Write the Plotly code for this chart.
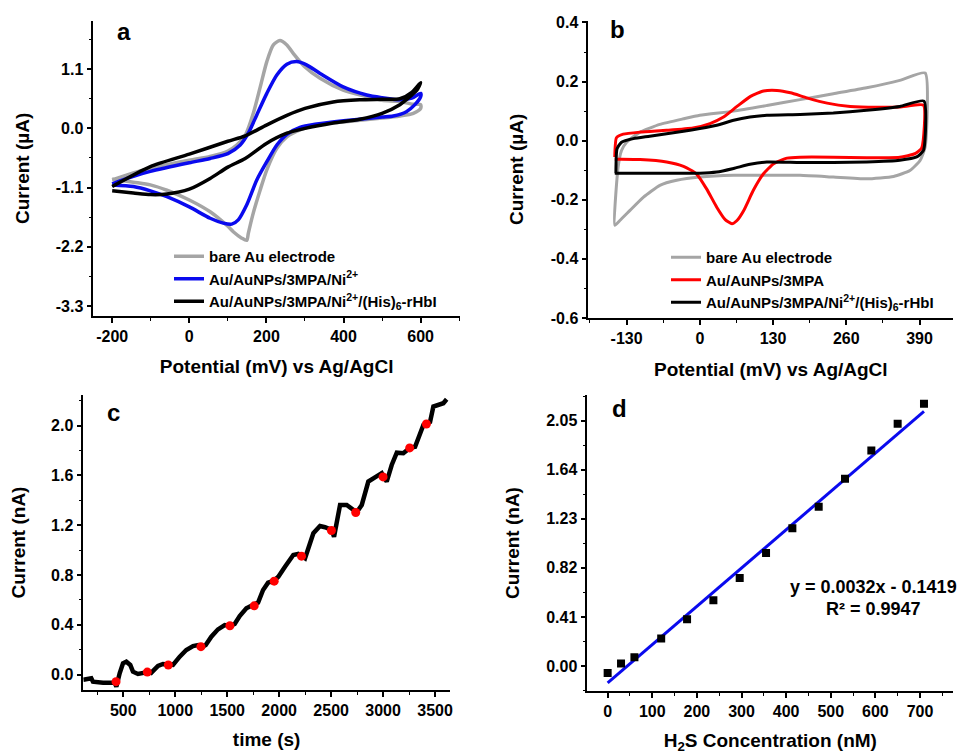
import plotly.graph_objects as go

# ---------------- Panel a : CV in ferri/ferrocyanide ----------------
a_bare_E = [-200, -145, -101, 0, 54, 100, 123, 145, 166, 184, 201, 218, 235, 253, 270, 300, 339, 399, 460, 500, 546, 577, 600,
            600, 581, 546, 500, 400, 331, 287, 253, 227, 201, 184, 166, 153, 149, 136, 114, 100, 54, 0, -58, -101, -145, -200]
a_bare_I = [-0.96, -0.83, -0.74, -0.59, -0.52, -0.42, -0.31, -0.13, 0.28, 0.77, 1.24, 1.55, 1.63, 1.55, 1.39, 1.14, 0.93, 0.71, 0.59, 0.52, 0.50, 0.45, 0.44,
            0.37, 0.28, 0.23, 0.19, 0.12, 0.06, -0.03, -0.16, -0.37, -0.77, -1.14, -1.57, -1.95, -2.08, -2.04, -1.92, -1.82, -1.55, -1.33, -1.15, -1.05, -1.00, -0.94]

a_ni_E = [-200, -145, -101, 0, 54, 100, 132, 153, 175, 201, 227, 253, 278, 304, 339, 399, 460, 500, 546, 577, 600,
          600, 585, 563, 529, 500, 400, 331, 287, 253, 227, 201, 175, 149, 127, 110, 88, 54, 0, -58, -101, -145, -200]
a_ni_I = [-1.03, -0.89, -0.80, -0.64, -0.56, -0.47, -0.31, -0.09, 0.25, 0.65, 0.99, 1.19, 1.24, 1.18, 1.02, 0.77, 0.62, 0.57, 0.53, 0.56, 0.65,
          0.59, 0.44, 0.31, 0.23, 0.21, 0.14, 0.08, 0.02, -0.11, -0.31, -0.62, -0.96, -1.42, -1.70, -1.78, -1.76, -1.67, -1.46, -1.27, -1.16, -1.08, -1.05]

a_hb_E = [-200, -101, 0, 100, 145, 200, 253, 300, 373, 442, 500, 546, 577, 600,
          590, 572, 546, 500, 442, 373, 300, 253, 200, 145, 100, 54, 0, -58, -101, -145, -200]
a_hb_I = [-1.08, -0.71, -0.48, -0.24, -0.14, 0.06, 0.24, 0.37, 0.49, 0.53, 0.54, 0.55, 0.67, 0.85,
          0.71, 0.59, 0.44, 0.28, 0.17, 0.10, 0.0, -0.09, -0.28, -0.56, -0.72, -0.93, -1.13, -1.22, -1.23, -1.20, -1.16]

a_xticks = [-200, 0, 200, 400, 600]
a_xtext = ["-200", "0", "200", "400", "600"]
a_yticks = [-3.3, -2.2, -1.1, 0.0, 1.1]
a_ytext = ["-3.3", "-2.2", "-1.1", "0.0", "1.1"]

# ---------------- Panel b : CV in blank ----------------
b_bare_E = [-151, -145, -139, -130, -106, -71, -29, 0, 60, 119, 178, 237, 296, 355, 400,
            400, 391, 373, 344, 296, 237, 178, 119, 60, 0, -41, -71, -100, -124, -142, -151]
b_bare_I = [-0.286, -0.089, -0.033, -0.005, 0.029, 0.055, 0.074, 0.086, 0.100, 0.119, 0.139, 0.159, 0.179, 0.204, 0.229,
            -0.021, -0.067, -0.101, -0.121, -0.129, -0.123, -0.117, -0.117, -0.117, -0.123, -0.134, -0.151, -0.191, -0.236, -0.270, -0.286]

b_mpa_E = [-151, -148, -136, -106, -59, -12, 18, 42, 66, 90, 113, 137, 161, 190, 226, 267, 314, 355, 397,
           394, 382, 355, 296, 237, 178, 155, 131, 113, 95, 78, 66, 57, 45, 30, 12, -6, -29, -59, -106, -142, -151]
b_mpa_I = [-0.055, 0.010, 0.022, 0.029, 0.035, 0.043, 0.058, 0.080, 0.116, 0.150, 0.168, 0.170, 0.162, 0.145, 0.127, 0.116, 0.113, 0.114, 0.120,
           -0.024, -0.044, -0.056, -0.058, -0.056, -0.056, -0.059, -0.078, -0.112, -0.168, -0.236, -0.270, -0.281, -0.267, -0.225, -0.163, -0.112, -0.087, -0.072, -0.064, -0.063, -0.063]

b_hb_E = [-149, -147, -139, -118, -89, -29, 0, 30, 60, 89, 119, 178, 237, 296, 355, 398,
          397, 385, 355, 296, 237, 178, 119, 89, 60, 30, 0, -59, -118, -151]
b_hb_I = [-0.110, -0.027, -0.005, 0.007, 0.015, 0.032, 0.041, 0.052, 0.069, 0.080, 0.086, 0.089, 0.094, 0.103, 0.116, 0.134,
          -0.033, -0.055, -0.066, -0.072, -0.074, -0.074, -0.072, -0.080, -0.094, -0.106, -0.110, -0.110, -0.110, -0.110]

b_xticks = [-130, 0, 130, 260, 390]
b_xtext = ["-130", "0", "130", "260", "390"]
b_yticks = [-0.6, -0.4, -0.2, 0.0, 0.2, 0.4]
b_ytext = ["-0.6", "-0.4", "-0.2", "0.0", "0.2", "0.4"]

# ---------------- Panel c : amperometric response ----------------
c_time = [115, 128, 192, 208, 305, 417, 433, 465, 497, 529, 567, 593, 641, 706, 738, 770, 834, 882, 930, 978,
          1043, 1106, 1171, 1219, 1250, 1293, 1347, 1411, 1476, 1526, 1572, 1620, 1684, 1732, 1760, 1797, 1845,
          1893, 1950, 1992, 2056, 2136, 2184, 2217, 2249, 2329, 2393, 2441, 2506, 2528, 2586, 2650, 2698, 2746,
          2795, 2858, 2922, 2987, 3008, 3035, 3083, 3132, 3195, 3260, 3308, 3356, 3388, 3426, 3452, 3484, 3532,
          3580, 3612]
c_current = [-0.040, -0.037, -0.029, -0.056, -0.064, -0.064, -0.096, 0.011, 0.091, 0.104, 0.078, 0.024, 0.006, 0.016,
             0.030, 0.016, 0.070, 0.086, 0.078, 0.078, 0.145, 0.198, 0.230, 0.238, 0.220, 0.238, 0.305, 0.364, 0.399,
             0.392, 0.407, 0.471, 0.533, 0.555, 0.560, 0.579, 0.680, 0.739, 0.755, 0.787, 0.867, 0.961, 0.970, 0.956,
             0.935, 1.136, 1.194, 1.184, 1.162, 1.108, 1.363, 1.363, 1.336, 1.304, 1.363, 1.551, 1.585, 1.618, 1.585,
             1.551, 1.684, 1.783, 1.778, 1.823, 1.831, 1.952, 2.006, 2.019, 2.030, 2.153, 2.166, 2.180, 2.212]
c_dot_time = [430, 731, 933, 1247, 1526, 1760, 1952, 2215, 2503, 2737, 3000, 3256, 3417]
c_dot_current = [-0.056, 0.021, 0.078, 0.225, 0.393, 0.553, 0.751, 0.952, 1.158, 1.302, 1.588, 1.821, 2.013]

c_xticks = [500, 1000, 1500, 2000, 2500, 3000, 3500]
c_yticks = [0.0, 0.4, 0.8, 1.2, 1.6, 2.0]
c_ytext = ["0.0", "0.4", "0.8", "1.2", "1.6", "2.0"]

# ---------------- Panel d : calibration ----------------
d_conc = [0, 30, 60, 120, 178, 237, 296, 355, 414, 473, 532, 591, 650, 709]
d_current = [-0.058, 0.020, 0.072, 0.230, 0.390, 0.550, 0.735, 0.944, 1.150, 1.330, 1.565, 1.800, 2.024, 2.190]
fit_slope = 0.0032
fit_intercept = -0.1419
fit_r2 = 0.9947

d_xticks = [0, 100, 200, 300, 400, 500, 600, 700]
d_yticks = [0.0, 0.41, 0.82, 1.23, 1.64, 2.05]
d_ytext = ["0.00", "0.41", "0.82", "1.23", "1.64", "2.05"]

FONT = "Liberation Sans, Arial, Helvetica, sans-serif"
GRAY = "#a5a5a5"
BLUE = "#0a0aee"
RED = "#ff0000"

fig = go.Figure()

# panel a
fig.add_trace(go.Scatter(x=a_bare_E, y=a_bare_I, mode="lines", name="bare Au electrode",
                         line=dict(color=GRAY, width=3.5, shape="spline", smoothing=0.7),
                         xaxis="x", yaxis="y", legend="legend"))
fig.add_trace(go.Scatter(x=a_ni_E, y=a_ni_I, mode="lines", name="Au/AuNPs/3MPA/Ni<sup>2+</sup>",
                         line=dict(color=BLUE, width=3.5, shape="spline", smoothing=0.7),
                         xaxis="x", yaxis="y", legend="legend"))
fig.add_trace(go.Scatter(x=a_hb_E, y=a_hb_I, mode="lines", name="Au/AuNPs/3MPA/Ni<sup>2+</sup>/(His)<sub>6</sub>-rHbI",
                         line=dict(color="black", width=3.5, shape="spline", smoothing=0.7),
                         xaxis="x", yaxis="y", legend="legend"))
# panel b
fig.add_trace(go.Scatter(x=b_bare_E, y=b_bare_I, mode="lines", name="bare Au electrode",
                         line=dict(color=GRAY, width=3, shape="spline", smoothing=0.5),
                         xaxis="x2", yaxis="y2", legend="legend2"))
fig.add_trace(go.Scatter(x=b_mpa_E, y=b_mpa_I, mode="lines", name="Au/AuNPs/3MPA",
                         line=dict(color=RED, width=3, shape="spline", smoothing=0.5),
                         xaxis="x2", yaxis="y2", legend="legend2"))
fig.add_trace(go.Scatter(x=b_hb_E, y=b_hb_I, mode="lines", name="Au/AuNPs/3MPA/Ni<sup>2+</sup>/(His)<sub>6</sub>-rHbI",
                         line=dict(color="black", width=3, shape="spline", smoothing=0.5),
                         xaxis="x2", yaxis="y2", legend="legend2"))
# panel c
fig.add_trace(go.Scatter(x=c_time, y=c_current, mode="lines", showlegend=False,
                         line=dict(color="black", width=4.5),
                         xaxis="x3", yaxis="y3"))
fig.add_trace(go.Scatter(x=c_dot_time, y=c_dot_current, mode="markers", showlegend=False,
                         marker=dict(color=RED, size=9),
                         xaxis="x3", yaxis="y3"))
# panel d
fit_x = [d_conc[0], d_conc[-1]]
fit_y = [fit_slope * v + fit_intercept for v in fit_x]
fig.add_trace(go.Scatter(x=fit_x, y=fit_y, mode="lines", showlegend=False,
                         line=dict(color=BLUE, width=3),
                         xaxis="x4", yaxis="y4"))
fig.add_trace(go.Scatter(x=d_conc, y=d_current, mode="markers", showlegend=False,
                         marker=dict(color="black", size=8, symbol="square"),
                         xaxis="x4", yaxis="y4"))

W, H = 957, 754


def dx(p0, p1):
    return [p0 / W, p1 / W]


def dy(top, bottom):
    return [1 - bottom / H, 1 - top / H]


tickfont = dict(family=FONT, size=16, color="black", weight="bold")
titlefont = dict(family=FONT, size=19, color="black", weight="bold")


def axis(domain, anchor, rng, tickvals, ticktext, minor_vals, title, standoff):
    return dict(domain=domain, anchor=anchor, range=rng, showline=True, linecolor="black", linewidth=1.6,
                ticks="outside", ticklen=5, tickwidth=1.5, tickcolor="black", tickmode="array",
                tickvals=tickvals, ticktext=ticktext, tickfont=tickfont, showgrid=False, zeroline=False,
                automargin=False,
                minor=dict(ticks="outside", ticklen=3, tickwidth=1.3, tickcolor="black",
                           tickmode="array", tickvals=minor_vals),
                title=dict(text=title, font=titlefont, standoff=standoff))


fig.update_layout(
    width=W, height=H, margin=dict(l=0, r=0, t=0, b=0, autoexpand=False),
    paper_bgcolor="white", plot_bgcolor="white",
    font=dict(family=FONT, color="black"),
    xaxis=axis(dx(93.3, 460), "y", [-249, 702], a_xticks, a_xtext,
               [-100, 100, 300, 500, 700], "Potential (mV) vs Ag/AgCl", 16),
    yaxis=axis(dy(20.7, 316), "x", [-3.486, 2.0], a_yticks, a_ytext,
               [-2.75, -1.65, -0.55, 0.55, 1.65], "Current (\u00b5A)", 21),
    xaxis2=axis(dx(588.3, 953.3), "y2", [-198, 450], b_xticks, b_xtext,
                [-195, -65, 65, 195, 325], "Potential (mV) vs Ag/AgCl", 17),
    yaxis2=axis(dy(20.7, 318), "x2", [-0.6, 0.406], b_yticks, b_ytext,
                [-0.5, -0.3, -0.1, 0.1, 0.3], "Current (\u00b5A)", 22),
    xaxis3=axis(dx(83.3, 450), "y3", [115, 3644], c_xticks, [str(v) for v in c_xticks],
                [250, 750, 1250, 1750, 2250, 2750, 3250], "time (s)", 15),
    yaxis3=axis(dy(395, 690), "x3", [-0.123, 2.246], c_yticks, c_ytext,
                [0.2, 0.6, 1.0, 1.4, 1.8, 2.2], "Current (nA)", 20),
    xaxis4=axis(dx(587.3, 953.3), "y4", [-45.6, 774.7], d_xticks, [str(v) for v in d_xticks],
                [50, 150, 250, 350, 450, 550, 650, 750], "H<sub>2</sub>S Concentration (nM)", 15),
    yaxis4=axis(dy(395, 691), "x4", [-0.209, 2.264], d_yticks, d_ytext,
                [-0.205, 0.205, 0.615, 1.025, 1.435, 1.845, 2.255], "Current (nA)", 22),
    legend=dict(x=169 / W, y=1 - 240 / H, xanchor="left", yanchor="top", bgcolor="rgba(0,0,0,0)",
                font=dict(family=FONT, size=15, color="black", weight="bold"), tracegroupgap=0,
                itemwidth=30),
    legend2=dict(x=666 / W, y=1 - 241 / H, xanchor="left", yanchor="top", bgcolor="rgba(0,0,0,0)",
                 font=dict(family=FONT, size=15, color="black", weight="bold"), tracegroupgap=0,
                 itemwidth=30),
)

label_font = dict(family=FONT, size=24, color="black", weight="bold")
for txt, x, y in [("a", 124, 31), ("b", 617, 30), ("c", 113, 412), ("d", 619, 408)]:
    fig.add_annotation(text=txt, x=x / W, y=1 - y / H, xref="paper", yref="paper",
                       showarrow=False, font=label_font, xanchor="center", yanchor="middle")

eq_font = dict(family=FONT, size=18, color="black", weight="bold")
fig.add_annotation(text=f"y = {fit_slope}x - {abs(fit_intercept)}", x=873 / W, y=1 - 587 / H,
                   xref="paper", yref="paper", showarrow=False, font=eq_font,
                   xanchor="center", yanchor="middle")
fig.add_annotation(text=f"R\u00b2 = {fit_r2}", x=873 / W, y=1 - 609 / H,
                   xref="paper", yref="paper", showarrow=False, font=eq_font,
                   xanchor="center", yanchor="middle")

fig.write_html("out.html", config={"displayModeBar": False},
               post_script="document.body.style.margin='0';document.body.style.padding='0';")
